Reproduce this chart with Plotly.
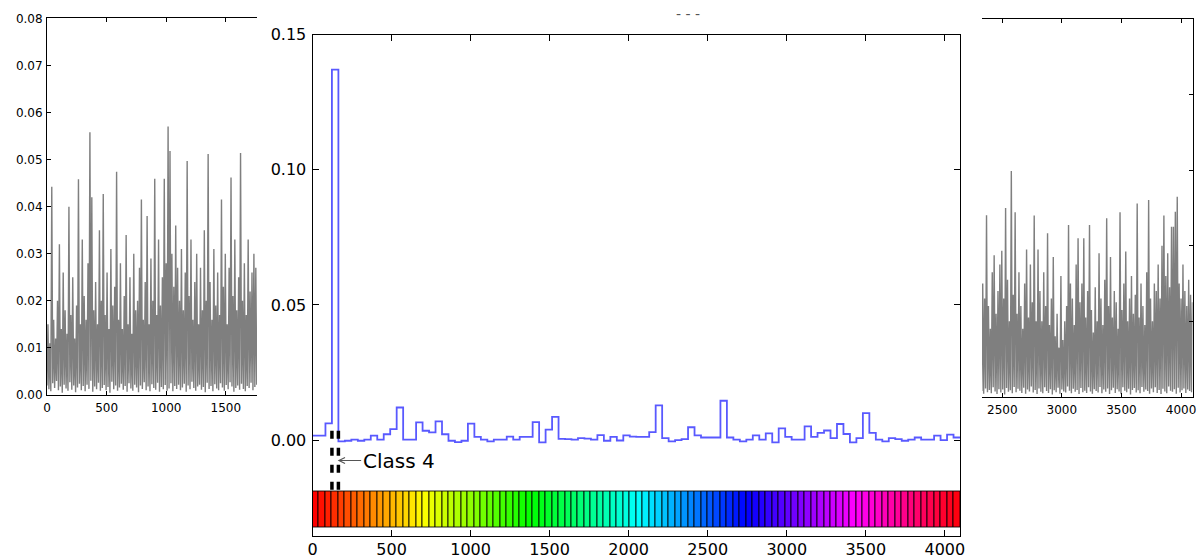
import colorsys

import numpy as np
import plotly.graph_objects as go

# ---------------------------------------------------------------- data
SIGNAL_LENGTH = 4096
N_CLASSES = 100
HIGHLIGHT_CLASS = 4          # 1-based class index that gets the dashed markers

# mean response per class (units of 1e-3)
CLASS_RESPONSE_MILLI = [
    1.7, 1.7, 6.2, 137.0, -0.4, -0.2, 0.2, -0.2, 0.2, 1.7,
    0.2, 2.2, 4.1, 12.1, 0.2, 0.2, 6.6, 3.5, 2.9, 7.0,
    2.2, -0.2, -0.7, -0.2, 6.1, 1.2, 0.2, -0.4, 0.2, 0.2,
    1.3, 0.2, 1.2, 1.2, 6.7, -0.8, 3.9, 8.6, 0.5, 0.4,
    0.2, 0.8, 0.6, 0.2, 1.9, -0.2, 1.2, -0.1, 1.8, 1.3,
    1.2, 1.2, 3.0, 12.9, 0.8, -0.4, 0.0, 0.4, 4.8, 1.8,
    1.0, 1.0, 1.0, 14.6, 1.0, 0.2, -0.4, 0.2, 1.8, 0.2,
    2.5, -0.8, 4.4, 1.2, 0.2, 0.2, 5.1, 1.2, 2.7, 3.6,
    0.8, 6.0, 2.3, -0.8, 0.8, 10.0, 2.7, 0.2, -0.4, 0.8,
    0.4, -0.2, 0.2, 1.0, 0.2, 0.2, 1.7, 0.0, 2.1, 1.0,
]

# raw signal, start of the record (units of 1e-4, sampled every 8 points)
LEFT_START, LEFT_STEP = 0, 8
LEFT_SIGNAL_E4 = [
    20, 150, 12, 110, 8, 442, 25, 160, 15, 120, 30, 200, 10, 320, 18, 140, 5, 260, 22, 180,
    14, 130, 9, 400, 27, 170, 11, 250, 20, 120, 6, 190, 16, 458, 24, 150, 10, 330, 19, 210,
    8, 160, 22, 280, 13, 558, 30, 420, 7, 180, 18, 240, 12, 150, 26, 350, 9, 200, 15, 427,
    21, 170, 10, 260, 17, 140, 5, 310, 28, 190, 12, 230, 20, 474, 9, 160, 16, 280, 24, 140,
    11, 210, 19, 340, 7, 150, 25, 250, 14, 130, 9, 300, 22, 180, 16, 200, 6, 270, 20, 415,
    13, 160, 27, 240, 10, 380, 18, 150, 8, 290, 23, 200, 15, 459, 11, 170, 26, 330, 7, 190,
    17, 250, 12, 459, 21, 280, 9, 570, 14, 518, 25, 300, 8, 230, 19, 360, 13, 270, 22, 200,
    10, 310, 16, 180, 24, 260, 7, 497, 20, 210, 12, 330, 28, 160, 15, 240, 9, 300, 18, 150,
    22, 270, 11, 180, 17, 350, 6, 200, 26, 512, 13, 240, 19, 160, 8, 310, 23, 190, 14, 260,
    10, 170, 25, 415, 16, 230, 9, 300, 21, 150, 12, 270, 27, 462, 18, 210, 7, 330, 15, 180,
    20, 250, 11, 514, 24, 200, 13, 280, 8, 170, 19, 330, 15, 220, 26, 260, 10, 300, 17, 270,
    22,
]

# raw signal, end of the record (units of 1e-4, sampled every 8 points)
RIGHT_START, RIGHT_STEP = 2328, 8
RIGHT_SIGNAL_E4 = [
    15, 300, 8, 260, 22, 481, 12, 240, 18, 180, 9, 330, 25, 375, 14, 220, 7, 280, 20, 350,
    11, 387, 19, 260, 6, 500, 23, 310, 13, 200, 17, 598, 9, 270, 26, 489, 12, 220, 21, 330,
    16, 240, 10, 180, 24, 300, 8, 390, 19, 210, 14, 350, 27, 250, 11, 480, 18, 200, 7, 390,
    22, 280, 13, 200, 9, 330, 25, 240, 15, 433, 10, 190, 20, 260, 6, 370, 17, 160, 12, 220,
    24, 130, 8, 320, 19, 150, 14, 200, 11, 240, 27, 455, 16, 300, 9, 260, 21, 190, 13, 350,
    18, 420, 7, 250, 23, 300, 12, 420, 16, 210, 10, 280, 25, 455, 14, 230, 8, 170, 20, 290,
    15, 200, 11, 380, 26, 260, 9, 190, 19, 310, 13, 473, 22, 240, 7, 370, 17, 210, 24, 280,
    10, 250, 20, 180, 14, 489, 8, 230, 25, 300, 16, 385, 12, 200, 21, 260, 6, 320, 18, 220,
    23, 270, 11, 512, 17, 210, 9, 300, 26, 240, 13, 190, 19, 330, 15, 521, 8, 260, 22, 200,
    12, 300, 25, 280, 10, 350, 18, 260, 7, 400, 21, 480, 14, 320, 9, 380, 27, 290, 16, 450,
    13, 450, 20, 490, 8, 530, 24, 300, 11, 260, 17, 350, 22, 280, 10, 240, 19, 310, 15, 270,
    12, 250,
]

MAIN_Y_TICKS = [0.0, 0.05, 0.10, 0.15]
MAIN_X_TICKS = [0, 500, 1000, 1500, 2000, 2500, 3000, 3500, 4000]
LEFT_X_TICKS = [0, 500, 1000, 1500]
LEFT_Y_TICKS = [0.0, 0.01, 0.02, 0.03, 0.04, 0.05, 0.06, 0.07, 0.08]
RIGHT_X_TICKS = [2500, 3000, 3500, 4000]
RIGHT_Y_TICKS = [0.02, 0.04, 0.06, 0.08]

# ---------------------------------------------------------------- layout constants
W, H = 1199, 558
FONT = "DejaVu Sans"
CB_BOTTOM, CB_TOP = -0.0324, -0.0189      # class colour strip, in response units
DASH_TOP = 0.0035
MAIN_Y_RANGE = [-0.0353, 0.15]


def px_x(p):
    return p / W


def px_y(p):
    return (H - p) / H


class_width = SIGNAL_LENGTH / N_CLASSES
edges = np.arange(N_CLASSES + 1) * class_width
centers = edges[:-1] + class_width / 2
response = np.array(CLASS_RESPONSE_MILLI) / 1000.0
step_y = np.append(response, response[-1])

left_y = np.array(LEFT_SIGNAL_E4) / 1e4
left_x = LEFT_START + LEFT_STEP * np.arange(len(left_y))
right_y = np.array(RIGHT_SIGNAL_E4) / 1e4
right_x = RIGHT_START + RIGHT_STEP * np.arange(len(right_y))

strip_colors = []
for k in range(N_CLASSES):
    r, g, b = colorsys.hsv_to_rgb(k / N_CLASSES, 1.0, 1.0)
    strip_colors.append(f"rgb({round(r * 255)},{round(g * 255)},{round(b * 255)})")

fig = go.Figure()

# side panels: raw signal
signal_line = dict(color="#7f7f7f", width=1.4)
fig.add_trace(go.Scatter(
    x=left_x, y=left_y, mode="lines", xaxis="x2", yaxis="y2",
    line=signal_line, hoverinfo="skip"))
fig.add_trace(go.Scatter(
    x=right_x, y=right_y, mode="lines", xaxis="x3", yaxis="y3",
    line=signal_line, hoverinfo="skip"))

# class colour strip
fig.add_trace(go.Bar(
    x=centers, y=[CB_TOP - CB_BOTTOM] * N_CLASSES, base=CB_BOTTOM,
    width=class_width, xaxis="x", yaxis="y",
    marker=dict(color=strip_colors, line=dict(color="rgba(0,0,0,0.85)", width=1)),
    hoverinfo="skip"))

# per-class response as a step curve
fig.add_trace(go.Scatter(
    x=edges, y=step_y, mode="lines", xaxis="x", yaxis="y",
    line=dict(shape="hv", color="rgba(0,0,255,0.65)", width=1.8),
    hoverinfo="skip"))

# dashed markers around the highlighted class
for e in (edges[HIGHLIGHT_CLASS - 1], edges[HIGHLIGHT_CLASS]):
    fig.add_trace(go.Scatter(
        x=[e, e], y=[DASH_TOP, CB_TOP], mode="lines", xaxis="x", yaxis="y",
        line=dict(color="black", width=3.5, dash="8px,9px"), hoverinfo="skip"))

fig.add_annotation(
    x=edges[HIGHLIGHT_CLASS] - 5, y=-0.0075, xref="x", yref="y",
    ax=545, ay=-0.0075, axref="x", ayref="y",
    text=f"Class {HIGHLIGHT_CLASS}", showarrow=True,
    arrowhead=5, arrowsize=1.2, arrowwidth=1, arrowcolor="#555555",
    font=dict(family=FONT, size=20, color="black"))

fig.add_annotation(
    x=px_x(688), y=px_y(14), xref="paper", yref="paper",
    xanchor="center", yanchor="middle",
    text="- - -", showarrow=False,
    font=dict(family=FONT, size=14, color="#555555"))

axis_common = dict(showline=True, linecolor="black", linewidth=1,
                   showgrid=False, zeroline=False, ticks="inside",
                   tickcolor="black", automargin=False)

fig.update_layout(
    width=W, height=H, autosize=False,
    margin=dict(l=0, r=0, t=0, b=0, pad=0, autoexpand=False),
    paper_bgcolor="white", plot_bgcolor="white",
    showlegend=False, bargap=0,
    font=dict(family=FONT, color="black"),
    xaxis=dict(**axis_common, domain=[px_x(312.5), px_x(960)], anchor="y",
               range=[0, SIGNAL_LENGTH], tickvals=MAIN_X_TICKS, mirror="ticks",
               ticklen=6, tickfont=dict(size=16), ticklabelstandoff=-1),
    yaxis=dict(**axis_common, domain=[px_y(535.7), px_y(34.5)], anchor="x",
               range=MAIN_Y_RANGE, tickvals=MAIN_Y_TICKS, tickformat=".2f",
               mirror="ticks", ticklen=6, tickfont=dict(size=16),
               ticklabelstandoff=2),
    xaxis2=dict(**axis_common, domain=[px_x(47), px_x(257)], anchor="y2",
                range=[0, 1762], tickvals=LEFT_X_TICKS, mirror="ticks",
                ticklen=4, tickfont=dict(size=12), ticklabelstandoff=2),
    yaxis2=dict(**axis_common, domain=[px_y(395), px_y(18.3)], anchor="x2",
                range=[0, 0.08], tickvals=LEFT_Y_TICKS, tickformat=".2f",
                ticklen=4, tickfont=dict(size=12), ticklabelstandoff=1),
    xaxis3=dict(**axis_common, domain=[px_x(982), px_x(1192.5)], anchor="y3",
                range=[2330, SIGNAL_LENGTH], tickvals=RIGHT_X_TICKS,
                mirror="ticks", ticklen=4, tickfont=dict(size=12),
                ticklabelstandoff=2),
    yaxis3=dict(**axis_common, domain=[px_y(396.7), px_y(19.3)], anchor="x3",
                side="right", range=[0, 0.10], tickvals=RIGHT_Y_TICKS,
                showticklabels=False, ticklen=4),
)

# page body without the default browser margin so the figure sits at the origin
BODY_RESET = ("document.body.style.margin='0';"
              "document.body.style.padding='0';"
              "document.body.style.overflow='hidden';")

fig.write_html("out.html",
               config={"displayModeBar": False, "responsive": False},
               post_script=BODY_RESET)
